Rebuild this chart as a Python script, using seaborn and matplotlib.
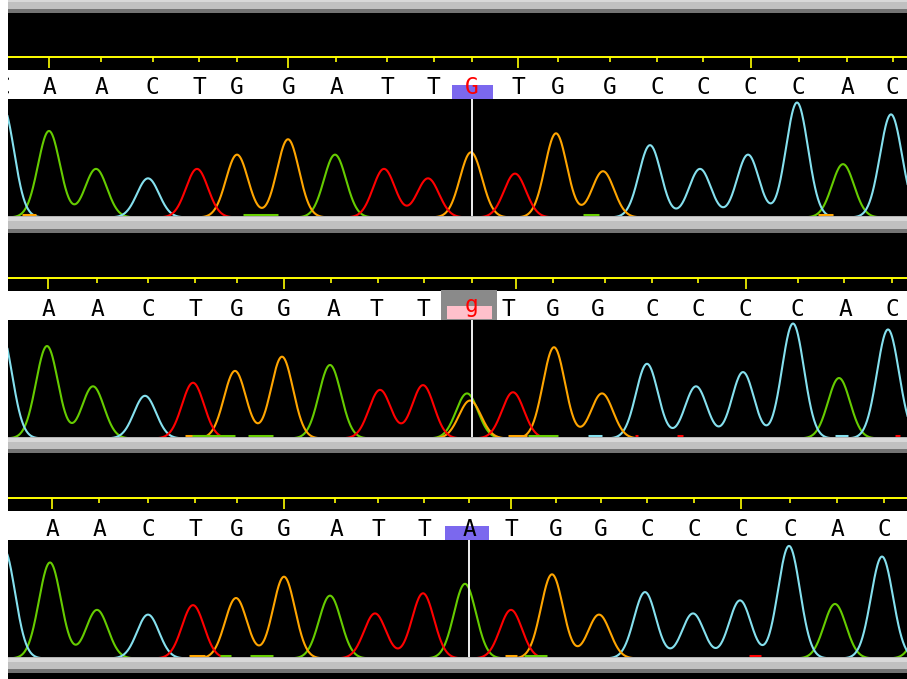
import numpy as np
import pandas as pd
import matplotlib
matplotlib.use("Agg")
import matplotlib.pyplot as plt
from matplotlib.patches import Rectangle
import seaborn as sns

W, H = 907, 679

base_colors = {"A": "#66cc00", "C": "#85e0ee", "G": "#ffa500", "T": "#ff0000"}

# base calls and their scan positions for the three traces
calls_1 = list("CAACTGGATTGTGGCCCCAC")
call_x_1 = [3, 49, 101, 152, 199, 237, 289, 336, 387, 433, 472, 518, 558, 610, 657, 703, 750, 798, 847, 892]
calls_2 = list("AACTGGATTgTGGCCCCAC")
call_x_2 = [48, 97, 148, 195, 237, 284, 333, 376, 423, 472, 508, 553, 598, 652, 698, 745, 797, 845, 892]
calls_3 = list("CAACTGGATTATGGCCCCAC")
call_x_3 = [-1, 52, 99, 148, 195, 237, 284, 336, 378, 424, 469, 511, 556, 601, 647, 694, 741, 790, 837, 884]

# ruler ticks, every fifth one is long
ticks_1 = [49, 101, 153, 199, 237, 288, 336, 387, 434, 472, 518, 558, 610, 657, 703, 751, 799, 847, 893]
ticks_2 = [48, 97, 148, 195, 237, 284, 331, 378, 424, 472, 516, 553, 605, 652, 698, 746, 798, 844, 892]
ticks_3 = [52, 99, 148, 195, 237, 284, 335, 378, 424, 469, 511, 556, 601, 647, 694, 741, 790, 837, 884]

# peaks: dye, scan position, relative height
peak_base_1 = list("CAACTGGATTGTGGCCCCAC")
peak_x_1 = [3, 49, 96, 148, 197, 237, 288, 335, 384, 428, 471, 515, 556, 603, 650, 700, 748, 797, 843, 891]
peak_h_1 = [0.93, 0.73, 0.41, 0.33, 0.41, 0.53, 0.66, 0.53, 0.41, 0.33, 0.55, 0.37, 0.71, 0.39, 0.61, 0.41, 0.53, 0.97, 0.45, 0.87]

peak_base_2 = list("CAACTGGATTAGTGGCCCCAC")
peak_x_2 = [1, 47, 93, 145, 193, 235, 282, 330, 380, 423, 467, 470, 513, 554, 602, 647, 696, 743, 793, 839, 888]
peak_h_2 = [0.90, 0.78, 0.44, 0.36, 0.47, 0.57, 0.69, 0.62, 0.41, 0.45, 0.38, 0.32, 0.39, 0.77, 0.38, 0.63, 0.44, 0.56, 0.97, 0.51, 0.92]

peak_base_3 = list("CAACTGGATTATGGCCCCACA")
peak_x_3 = [4, 50, 97, 148, 193, 236, 284, 330, 375, 423, 465, 511, 552, 599, 645, 693, 740, 789, 835, 882, 928]
peak_h_3 = [0.92, 0.81, 0.41, 0.37, 0.45, 0.51, 0.69, 0.53, 0.38, 0.55, 0.63, 0.41, 0.71, 0.37, 0.56, 0.38, 0.49, 0.95, 0.46, 0.86, 0.45]

# low signal bits lying on the baseline
blip_base_1 = list("GAAG")
blip_x0_1 = [22, 243, 583, 818]
blip_x1_1 = [36, 278, 599, 833]
blip_base_2 = list("GAAGACTTCT")
blip_x0_2 = [185, 192, 248, 508, 528, 588, 635, 677, 835, 895]
blip_x1_2 = [213, 235, 273, 527, 558, 602, 638, 683, 848, 900]
blip_base_3 = list("GAAGAT")
blip_x0_3 = [189, 220, 250, 505, 524, 749]
blip_x1_3 = [205, 231, 273, 517, 547, 761]

cursor_x = [472, 472, 469]

panels = [
    (calls_1, call_x_1, ticks_1, peak_base_1, peak_x_1, peak_h_1, blip_base_1, blip_x0_1, blip_x1_1),
    (calls_2, call_x_2, ticks_2, peak_base_2, peak_x_2, peak_h_2, blip_base_2, blip_x0_2, blip_x1_2),
    (calls_3, call_x_3, ticks_3, peak_base_3, peak_x_3, peak_h_3, blip_base_3, blip_x0_3, blip_x1_3),
]

trace_top = [99, 320, 540]
trace_h = 117
gray_bars = [(-3, 13), (216, 233), (437, 453), (657, 673)]
sigma = 11.0
scan = np.arange(-30, 950, 0.5)


def trace_frame(bases, xs, hs):
    rows = []
    for b in "ACGT":
        sig = np.zeros_like(scan)
        for pb, px, ph in zip(bases, xs, hs):
            if pb == b:
                sig += ph * np.exp(-(scan - px) ** 2 / (2 * sigma ** 2))
        rows.append(pd.DataFrame({"scan": scan, "signal": sig, "base": b}))
    return pd.concat(rows, ignore_index=True)


def rect(ax, x0, y0, x1, y1, color, z=1):
    ax.add_patch(Rectangle((x0, y0), x1 - x0, y1 - y0, facecolor=color, edgecolor="none", zorder=z))


def px_axes(x0, y0, x1, y1):
    return fig.add_axes([x0 / W, 1 - y1 / H, (x1 - x0) / W, (y1 - y0) / H])


fig = plt.figure(figsize=(W / 100, H / 100), dpi=100, facecolor="white")
bg = px_axes(0, 0, W, H)
bg.set_xlim(0, W)
bg.set_ylim(H, 0)
bg.axis("off")

rect(bg, 8, 0, W, H, "black", 0)
for a, b in gray_bars:
    rect(bg, 8, a, W, a + 1, "#b4b4b4")
    rect(bg, 8, a + 1, W, a + 5, "#d8d8d8")
    rect(bg, 8, a + 5, W, b - 4, "#c0c0c0")
    rect(bg, 8, b - 4, W, b, "#747474")

for i, (calls, cx, ticks, pb, pxs, phs, bb, bx0, bx1) in enumerate(panels):
    T = trace_top[i]

    # header: ruler and base calls
    hd = px_axes(8, T - 45, W, T)
    hd.set_xlim(8, W)
    hd.set_ylim(T, T - 45)
    hd.axis("off")
    hd.patch.set_alpha(0)
    rect(hd, 8, T - 29.5, W, T, "white")
    hd.axhline(T - 42.5, color="#ffff00", lw=1.4)
    for k, tx in enumerate(ticks):
        hd.vlines(tx, T - 42.5, T - 31 if k % 5 == 0 else T - 37, color="#ffff00", lw=1.2)

    if i == 0:
        rect(hd, 452, T - 14, 493, T, "#7b68ee", 2)
    elif i == 1:
        rect(hd, 441, T - 30, 497, T, "#8a8a8a", 2)
        rect(hd, 447, T - 14, 492, T - 1, "#ffc0cb", 3)
    else:
        rect(hd, 445, T - 14, 489, T, "#7b68ee", 2)

    for letter, x in zip(calls, cx):
        col = "black"
        if x == cursor_x[i] and i < 2:
            col = "red"
        yb = T - 8 if letter == "g" else T - 4.5
        hd.text(x, yb, letter, ha="center", va="baseline", color=col,
                fontsize=16.5, family="DejaVu Sans Mono", zorder=5, clip_on=True)

    # trace
    ax = px_axes(8, T, W, T + trace_h)
    ax.set_facecolor("black")
    df = trace_frame(pb, pxs, phs)
    sns.lineplot(data=df, x="scan", y="signal", hue="base", hue_order=list("ACGT"),
                 palette=base_colors, estimator=None, legend=False, lw=1.5, ax=ax)
    for b, x0, x1 in zip(bb, bx0, bx1):
        ax.hlines(0.02, x0, x1, color=base_colors[b], lw=2.2)
    ax.axvline(cursor_x[i], color="#f0f0f0", lw=1.4, zorder=10)
    ax.set_xlim(8, W)
    ax.set_ylim(0.012, 1.0)
    ax.set_xticks([])
    ax.set_yticks([])
    ax.set_xlabel("")
    ax.set_ylabel("")
    for s in ax.spines.values():
        s.set_visible(False)

fig.savefig("out.png", dpi=100, facecolor="white")
